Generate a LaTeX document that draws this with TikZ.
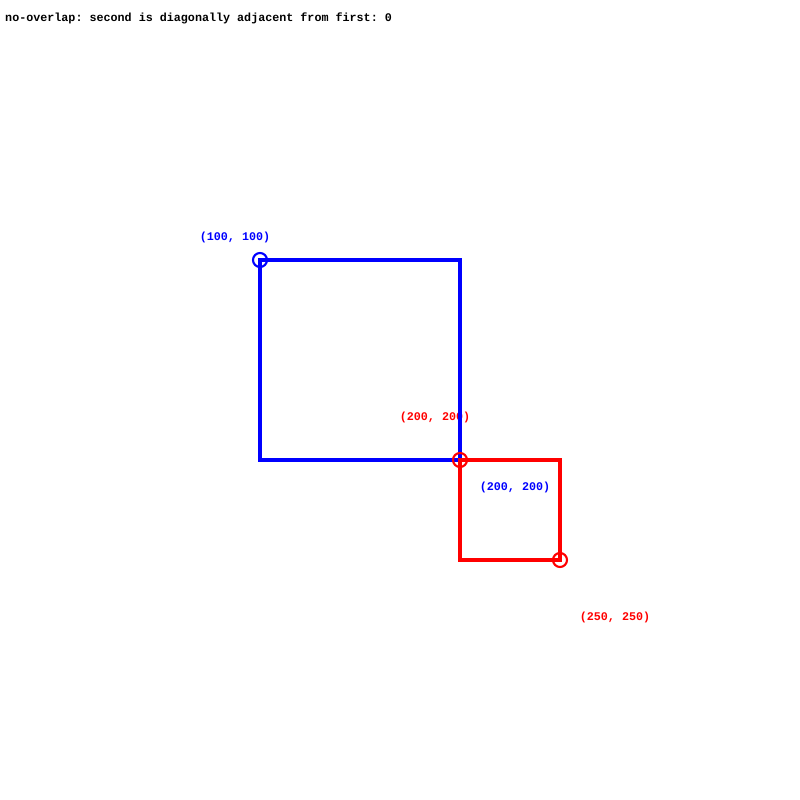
\documentclass[tikz,border=0pt]{standalone}
\usepackage{fontspec}
\setmonofont{Liberation Mono}
\usetikzlibrary{positioning}
\tikzset{
  lbl/.style={font=\ttfamily\bfseries\fontsize{10}{12}\selectfont, inner sep=0pt},
  sq/.style={line width=2.6pt},
  mk/.style={line width=1.8pt},
}
\begin{document}
\begin{tikzpicture}[x=0.03cm, y=-0.03cm]
\useasboundingbox (0,0) rectangle (800,800);

% title
\node[lbl, anchor=base west] (title) at (5,21) {no-overlap: second is diagonally adjacent from first: 0};

% corners
\coordinate (a1) at (260,260);
\coordinate (a2) at (460,460);
\coordinate (b1) at (460,460);
\coordinate (b2) at (560,560);

% labels
\node[lbl, blue] (la1) at (235,237) {(100, 100)};
\node[lbl, red] (lb1) at (435,417) {(200, 200)};
\node[lbl, blue] (la2) at (515,487) {(200, 200)};
\node[lbl, red] (lb2) at (615,617) {(250, 250)};

% first square
\draw[sq, blue] (a1) rectangle (a2);
\draw[mk, blue] (a1) circle[radius=7];

% second square
\draw[sq, red] (b1) rectangle (b2);
\draw[mk, red] (b1) circle[radius=7];
\draw[mk, red] (b2) circle[radius=7];
\end{tikzpicture}
\end{document}
